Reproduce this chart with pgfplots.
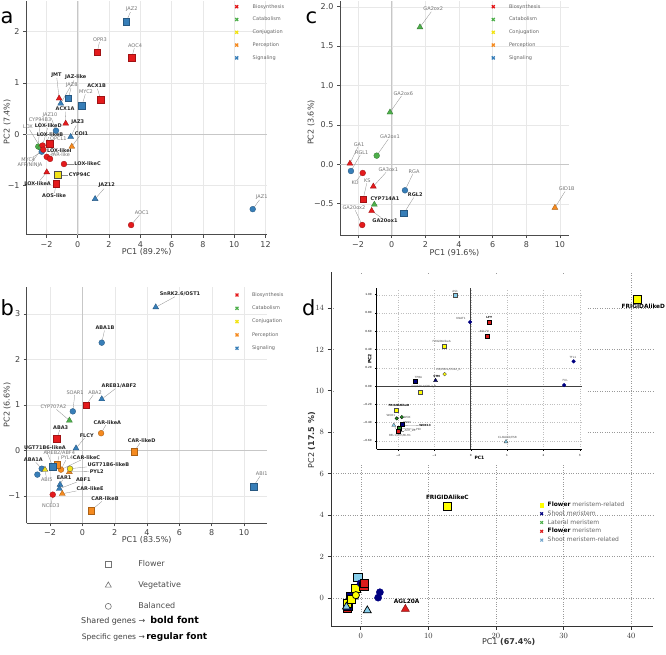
\documentclass[border=0pt]{standalone}
\usepackage{pgfplots}
\pgfplotsset{compat=1.18}
\usepackage{fontspec}
\setmainfont{DejaVu Sans}

% category colours (panels a--c)
\definecolor{cBio}{HTML}{E41A1C}
\definecolor{cCat}{HTML}{4DAF4A}
\definecolor{cCon}{HTML}{F2E318}
\definecolor{cPer}{HTML}{F58A1F}
\definecolor{cSig}{HTML}{377EB8}
% meristem colours (panel d)
\definecolor{dYel}{HTML}{FFFF00}
\definecolor{dNavy}{HTML}{000080}
\definecolor{dGreen}{HTML}{228B22}
\definecolor{dRed}{HTML}{DD1C1C}
\definecolor{dSky}{HTML}{87CEEB}

\tikzset{
  lr/.style={font=\fontsize{5}{5}\selectfont, text=black!55, inner sep=0.5pt},
  lb/.style={font=\fontsize{5}{5}\selectfont\bfseries, text=black!85, inner sep=0.5pt},
  li/.style={font=\fontsize{2.8}{3}\selectfont, text=black!70, inner sep=0.3pt},
  lib/.style={font=\fontsize{2.8}{3}\selectfont\bfseries, text=black, inner sep=0.3pt},
  leader/.style={draw=black!45, line width=0.3pt, shorten <=2pt},
}
% gene label with a leader line: style, point x, point y, label x, label y, text
\newcommand{\gl}[6]{%
  \node[#1] (gl) at (axis cs:#4,#5) {#6};
  \draw[leader] (axis cs:#2,#3) -- (gl);
}

\pgfplotsset{
  pcabase/.style={
    scale only axis,
    axis x line*=bottom, axis y line*=left,
    axis line style={black!70, line width=0.8pt},
    every tick/.style={black!70, line width=0.6pt},
    tick align=outside, major tick length=3pt,
    ticklabel style={font=\fontsize{8}{9}\selectfont, text=black!75},
    label style={font=\fontsize{8}{9}\selectfont, text=black!75},
    grid=major, grid style={black!9, line width=0.35pt},
    clip=false,
    legend style={draw=none, fill=none, inner sep=0pt, outer sep=0pt,
      anchor=north west, column sep=0pt, row sep=7.6pt,
      nodes={inner sep=0pt, font=\fontsize{5}{5}\selectfont, text=black!60,
             text height=3.6pt, text depth=1pt}},
    legend cell align=left,
  },
  sqA/.style={only marks, forget plot, mark=square*, mark size=3.3pt},
  triA/.style={only marks, forget plot, mark=triangle*, mark size=3.4pt},
  cirA/.style={only marks, forget plot, mark=*, mark size=2.9pt},
  bio/.style={draw=cBio!70!black, fill=cBio, mark options={line width=0.35pt}},
  cat/.style={draw=cCat!70!black, fill=cCat, mark options={line width=0.35pt}},
  con/.style={draw=black!70, fill=cCon, mark options={line width=0.35pt}},
  per/.style={draw=cPer!70!black, fill=cPer, mark options={line width=0.35pt}},
  sig/.style={draw=cSig!70!black, fill=cSig, mark options={line width=0.35pt}},
  catlegend/.style={legend image code/.code={%
      \path[draw=none, fill=none] (-3pt,-2.6pt) rectangle (#1,2.6pt);
      \draw[##1] plot coordinates {(0pt,0pt)};}},
  legx/.style={mark=x, mark size=2.1pt, line width=1.3pt, color=#1},
  sqD/.style={only marks, forget plot, mark=square*, mark size=4.1pt},
  triD/.style={only marks, forget plot, mark=triangle*, mark size=4.6pt},
  cirD/.style={only marks, forget plot, mark=*, mark size=3.6pt},
  sqI/.style={only marks, forget plot, mark=square*, mark size=2pt},
  triI/.style={only marks, forget plot, mark=triangle*, mark size=2.3pt},
  cirI/.style={only marks, forget plot, mark=*, mark size=1.8pt},
}

\begin{document}
\begin{tikzpicture}
\useasboundingbox (0pt,0pt) rectangle (666pt,-655pt);

%% ---------------- panel a : jasmonate genes ----------------
\begin{axis}[pcabase, at={(26.1pt,-234.8pt)}, anchor=south west,
  width=241pt, height=233.9pt,
  xmin=-3.3, xmax=12.1, ymin=-1.96, ymax=2.6,
  xtick={-2,0,2,4,6,8,10,12}, xticklabels={−2,0,2,4,6,8,10,12},
  ytick={-1,0,1,2}, yticklabels={−1,0,1,2},
  xlabel={PC1 (89.2\%)}, ylabel={PC2 (7.4\%)},
  xlabel style={at={([yshift=-16.8pt]axis description cs:0.5,0)}, anchor=center},
  ylabel style={at={([xshift=-19pt]axis description cs:0,0.4835)}, anchor=center},
  legend style={at={(0.8614,0.9863)}}, catlegend=16pt,
]
\addlegendimage{legx=cBio}\addlegendentry{Biosynthesis}
\addlegendimage{legx=cCat}\addlegendentry{Catabolism}
\addlegendimage{legx=cCon}\addlegendentry{Conjugation}
\addlegendimage{legx=cPer}\addlegendentry{Perception}
\addlegendimage{legx=cSig}\addlegendentry{Signaling}
\draw[black!22, line width=0.8pt] (axis cs:0,-1.96) -- (axis cs:0,2.6);
\draw[black!22, line width=0.8pt] (axis cs:-3.3,0) -- (axis cs:12.1,0);
\gl{lr}{3.09}{2.19}{3.45}{2.44}{JAZ2}
\gl{lr}{1.25}{1.60}{1.42}{1.85}{OPR3}
\gl{lr}{3.45}{1.49}{3.66}{1.73}{AOC4}
\gl{lb}{-1.19}{0.70}{-1.36}{1.16}{JMT}
\gl{lb}{-1.09}{0.60}{-0.13}{1.11}{JAZ-like}
\gl{lr}{-0.60}{0.70}{-0.38}{0.96}{JAZ8}
\gl{lr}{0.27}{0.56}{0.53}{0.83}{MYC2}
\gl{lb}{1.47}{0.67}{1.21}{0.94}{ACX1B}
\gl{lb}{-0.77}{0.21}{-0.81}{0.49}{ACX1A}
\gl{lr}{-1.39}{0.07}{-1.77}{0.38}{JAZ10}
\gl{lb}{-0.45}{-0.05}{0.0}{0.23}{JAZ3}
\gl{lb}{-0.38}{-0.24}{0.24}{0.02}{COI1}
\gl{lr}{-2.52}{-0.24}{-2.41}{0.28}{CYP94B3}
\gl{lb}{-2.25}{-0.22}{-1.88}{0.17}{LOX-likeD}
\gl{lr}{-2.37}{-0.26}{-3.18}{0.14}{LOX}
\gl{lb}{-2.2}{-0.30}{-1.77}{0.0}{LOX-likeB}
\gl{lr}{-1.81}{-0.18}{-1.24}{-0.08}{OPCL1}
\gl{lb}{-1.98}{-0.44}{-1.18}{-0.31}{LOX-likeI}
\gl{lr}{-1.77}{-0.48}{-1.09}{-0.40}{JAR-like}
\gl{lb}{-0.88}{-0.58}{0.63}{-0.58}{LOX-likeC}
\gl{lr}{-2.30}{-0.34}{-3.16}{-0.50}{MYC4}
\gl{lr}{-2.35}{-0.30}{-3.05}{-0.60}{AFP/NINJA}
\gl{lb}{-1.28}{-0.79}{0.12}{-0.79}{CYP94C}
\gl{lb}{-1.98}{-0.74}{-2.57}{-0.955}{LOX-likeA}
\gl{lb}{-1.39}{-0.96}{-1.51}{-1.20}{AOS-like}
\gl{lb}{1.11}{-1.26}{1.85}{-1.0}{JAZ12}
\gl{lr}{3.41}{-1.77}{4.09}{-1.52}{AOC1}
\gl{lr}{11.18}{-1.46}{11.76}{-1.22}{JAZ1}
\addplot[cirA, cat] coordinates {(-2.52,-0.24) (-2.37,-0.26)};
\addplot[cirA, sig] coordinates {(-1.39,0.07) (-2.30,-0.34) (11.18,-1.46)};
\addplot[cirA, bio] coordinates {(-2.25,-0.22) (-2.2,-0.30) (-1.98,-0.44) (-1.77,-0.48) (-0.88,-0.58) (3.41,-1.77)};
\addplot[triA, per] coordinates {(-0.38,-0.24)};
\addplot[triA, sig] coordinates {(-1.09,0.60) (-0.45,-0.05) (1.11,-1.26)};
\addplot[triA, bio] coordinates {(-1.19,0.70) (-0.77,0.21) (-1.98,-0.74)};
\addplot[sqA, sig] coordinates {(3.09,2.19) (-0.60,0.70) (0.27,0.56)};
\addplot[sqA, bio] coordinates {(1.25,1.60) (3.45,1.49) (1.47,0.67) (-1.81,-0.18) (-1.39,-0.96)};
\addplot[sqA, con] coordinates {(-1.28,-0.79)};
\end{axis}

%% ---------------- panel b : abscisic acid genes ----------------
\begin{axis}[pcabase, at={(26.7pt,-523.3pt)}, anchor=south west,
  width=240pt, height=236.6pt,
  xmin=-3.44, xmax=11.4, ymin=-1.6, ymax=3.6,
  xtick={-2,0,2,4,6,8,10}, xticklabels={−2,0,2,4,6,8,10},
  ytick={-1,0,1,2,3}, yticklabels={−1,0,1,2,3},
  xlabel={PC1 (83.5\%)}, ylabel={PC2 (6.6\%)},
  xlabel style={at={([yshift=-16.4pt]axis description cs:0.5,0)}, anchor=center},
  ylabel style={at={([xshift=-19.5pt]axis description cs:0,0.5)}, anchor=center},
  legend style={at={(0.8638,0.9759)}, row sep=8.1pt}, catlegend=15pt,
]
\addlegendimage{legx=cBio}\addlegendentry{Biosynthesis}
\addlegendimage{legx=cCat}\addlegendentry{Catabolism}
\addlegendimage{legx=cCon}\addlegendentry{Conjugation}
\addlegendimage{legx=cPer}\addlegendentry{Perception}
\addlegendimage{legx=cSig}\addlegendentry{Signaling}
\draw[black!22, line width=0.8pt] (axis cs:0,-1.6) -- (axis cs:0,3.6);
\draw[black!22, line width=0.8pt] (axis cs:-3.44,0) -- (axis cs:11.4,0);
\gl{lb}{4.54}{3.15}{6.04}{3.44}{SnRK2.6/OST1}
\gl{lb}{1.20}{2.37}{1.40}{2.69}{ABA1B}
\gl{lb}{1.20}{1.13}{2.27}{1.42}{AREB1/ABF2}
\gl{lr}{0.23}{1.0}{0.79}{1.28}{ABA2}
\gl{lr}{-0.59}{0.86}{-0.45}{1.28}{SOAR1}
\gl{lr}{-0.80}{0.66}{-1.79}{0.96}{CYP707A2}
\gl{lb}{1.16}{0.38}{1.55}{0.62}{CAR-likeA}
\gl{lb}{-1.58}{0.26}{-1.34}{0.51}{ABA3}
\gl{lb}{-0.39}{0.05}{0.27}{0.33}{FLCY}
\gl{lb}{3.20}{-0.03}{3.67}{0.22}{CAR-likeD}
\gl{lb}{-1.83}{-0.35}{-2.31}{0.07}{UGT71B6-likeA}
\gl{lr}{-1.55}{-0.31}{-1.42}{-0.06}{AREB2/ABF4}
\gl{lr}{-1.32}{-0.42}{-0.95}{-0.16}{PYL4}
\gl{lb}{-1.32}{-0.42}{0.26}{-0.15}{CAR-likeC}
\gl{lb}{-0.76}{-0.40}{1.61}{-0.31}{UGT71B6-likeB}
\gl{lb}{-0.80}{-0.47}{0.89}{-0.46}{PYL2}
\gl{lb}{-2.51}{-0.40}{-3.03}{-0.20}{ABA1A}
\gl{lr}{-2.31}{-0.42}{-2.20}{-0.64}{ABI5}
\gl{lb}{-1.38}{-0.75}{-1.13}{-0.59}{EAR1}
\gl{lb}{-1.42}{-0.84}{0.06}{-0.64}{ABF1}
\gl{lb}{-1.24}{-0.95}{0.48}{-0.83}{CAR-likeE}
\gl{lr}{-1.83}{-0.97}{-1.95}{-1.22}{NCED3}
\gl{lb}{0.54}{-1.32}{1.40}{-1.06}{CAR-likeB}
\gl{lr}{10.58}{-0.79}{11.09}{-0.51}{ABI1}
\addplot[cirA, sig] coordinates {(1.20,2.37) (-0.59,0.86) (-2.51,-0.40) (-2.78,-0.53)};
\addplot[cirA, per] coordinates {(1.16,0.38) (-1.32,-0.42)};
\addplot[cirA, bio] coordinates {(-1.83,-0.97)};
\addplot[triA, sig] coordinates {(4.54,3.15) (1.20,1.13) (-0.39,0.05) (-1.38,-0.75) (-1.42,-0.84)};
\addplot[triA, cat] coordinates {(-0.80,0.66)};
\addplot[triA, con] coordinates {(-2.31,-0.42)};
\addplot[triA, per] coordinates {(-0.80,-0.47) (-1.24,-0.95)};
\addplot[cirA, con] coordinates {(-0.76,-0.40)};
\addplot[sqA, bio] coordinates {(0.23,1.0) (-1.58,0.26)};
\addplot[sqA, per] coordinates {(3.20,-0.03) (-1.55,-0.31) (0.54,-1.32)};
\addplot[sqA, sig] coordinates {(-1.83,-0.35) (10.58,-0.79)};
\end{axis}

%% ---------------- panel c : gibberellin genes ----------------
\begin{axis}[pcabase, at={(340pt,-235pt)}, anchor=south west,
  width=228.9pt, height=233.8pt,
  xmin=-3.07, xmax=10.53, ymin=-0.897, ymax=2.07,
  xtick={-2,0,2,4,6,8,10}, xticklabels={−2,0,2,4,6,8,10},
  ytick={-0.5,0,0.5,1,1.5,2}, yticklabels={−0.5,0.0,0.5,1.0,1.5,2.0},
  xlabel={PC1 (91.6\%)}, ylabel={PC2 (3.6\%)},
  xlabel style={at={([yshift=-17.5pt]axis description cs:0.5,0)}, anchor=center},
  ylabel style={at={([xshift=-29pt]axis description cs:0,0.481)}, anchor=center},
  legend style={at={(0.6566,0.9876)}}, catlegend=15.7pt,
]
\addlegendimage{legx=cBio}\addlegendentry{Biosynthesis}
\addlegendimage{legx=cCat}\addlegendentry{Catabolism}
\addlegendimage{legx=cCon}\addlegendentry{Conjugation}
\addlegendimage{legx=cPer}\addlegendentry{Perception}
\addlegendimage{legx=cSig}\addlegendentry{Signaling}
\draw[black!22, line width=0.8pt] (axis cs:0,-0.897) -- (axis cs:0,2.07);
\draw[black!22, line width=0.8pt] (axis cs:-3.07,0) -- (axis cs:10.53,0);
\gl{lr}{1.68}{1.74}{2.47}{1.97}{GA2ox2}
\gl{lr}{-0.10}{0.66}{0.69}{0.90}{GA2ox6}
\gl{lr}{-0.89}{0.11}{-0.10}{0.35}{GA2ox1}
\gl{lr}{-2.48}{0.01}{-1.94}{0.25}{GA1}
\gl{lr}{-2.42}{-0.085}{-1.78}{0.15}{RGL1}
\gl{lr}{-1.72}{-0.11}{-2.18}{-0.23}{KO}
\gl{lr}{-1.69}{-0.44}{-1.45}{-0.21}{KS}
\gl{lr}{-1.09}{-0.28}{-0.20}{-0.07}{GA3ox1}
\gl{lr}{0.79}{-0.33}{1.33}{-0.09}{RGA}
\gl{lb}{0.73}{-0.62}{1.40}{-0.39}{RGL2}
\node[lb] at (axis cs:-0.40,-0.44) {CYP714A1};
\gl{lb}{-1.19}{-0.59}{-0.40}{-0.71}{GA20ox1}
\gl{lr}{-1.75}{-0.77}{-2.24}{-0.55}{GA20ox2}
\gl{lr}{9.70}{-0.55}{10.4}{-0.31}{GID1B}
\addplot[triA, cat] coordinates {(1.68,1.74) (-0.10,0.66) (-1.03,-0.51)};
\addplot[cirA, cat] coordinates {(-0.89,0.11)};
\addplot[triA, bio] coordinates {(-2.48,0.01) (-1.09,-0.28) (-1.19,-0.59)};
\addplot[cirA, sig] coordinates {(-2.42,-0.085) (0.79,-0.33)};
\addplot[cirA, bio] coordinates {(-1.72,-0.11) (-1.75,-0.77)};
\addplot[sqA, bio] coordinates {(-1.69,-0.44)};
\addplot[sqA, sig] coordinates {(0.73,-0.62)};
\addplot[triA, per] coordinates {(9.70,-0.55)};
\end{axis}

%% ---------------- panel d : meristem genes ----------------
\begin{axis}[scale only axis, at={(331pt,-626pt)}, anchor=south west,
  width=321.8pt, height=354pt,
  xmin=-4.4, xmax=43.2, ymin=-1.36, ymax=15.74,
  axis x line*=bottom, axis y line*=left,
  axis line style={black!80, line width=1pt},
  every tick/.style={black!80, line width=0.7pt},
  tick align=outside, major tick length=3.5pt,
  ticklabel style={font=\fontsize{8}{9}\selectfont, text=black!80},
  label style={font=\fontsize{8}{9}\selectfont, text=black!80},
  xtick={0,10,20,30,40}, ytick={0,2,4,6,8,10,12,14},
  grid=major, grid style={black!40, dotted, line width=0.5pt},
  clip=false,
  xlabel={PC1 \textbf{(67.4\%)}}, ylabel={PC2 \textbf{(17.5 \%)}},
  xlabel style={at={([yshift=-16.2pt]axis description cs:0.552,0)}, anchor=center},
  ylabel style={at={([xshift=-19.5pt]axis description cs:0,0.525)}, anchor=center},
  legend style={draw=none, fill=none, inner sep=0pt, outer sep=0pt,
    at={(0.647,0.35)}, anchor=north west, column sep=0pt, row sep=3.2pt,
    nodes={inner sep=0pt, font=\fontsize{6}{6}\selectfont, text=black!60,
           text height=4.3pt, text depth=1.3pt}},
  legend cell align=left,
  legend image code/.code={\path[draw=none, fill=none] (-2.5pt,-2.5pt) rectangle (6pt,2.5pt);
    \draw[#1] plot coordinates {(0pt,0pt)};},
]
\addlegendimage{mark=square*, mark size=1.9pt, color=dYel}
\addlegendentry{\textcolor{black}{\textbf{Flower}} meristem-related}
\addlegendimage{mark=x, mark size=1.9pt, line width=1.1pt, color=dNavy}
\addlegendentry{Shoot meristem}
\addlegendimage{mark=x, mark size=1.9pt, line width=1.1pt, color=cCat}
\addlegendentry{Lateral meristem}
\addlegendimage{mark=x, mark size=1.9pt, line width=1.1pt, color=dRed}
\addlegendentry{\textcolor{black}{\textbf{Flower}} meristem}
\addlegendimage{mark=x, mark size=1.9pt, line width=1.1pt, color=cSig!70}
\addlegendentry{Shoot meristem-related}
\node[font=\fontsize{5.8}{6}\selectfont\bfseries] at (axis cs:41.8,14.06) {FRIGIDAlikeD};
\node[font=\fontsize{5.8}{6}\selectfont\bfseries] at (axis cs:12.81,4.86) {FRIGIDAlikeC};
\node[font=\fontsize{5.8}{6}\selectfont\bfseries] at (axis cs:6.8,-0.19) {AGL20A};
\addplot[cirD, draw=black, fill=dGreen, mark options={line width=0.7pt}] coordinates {(-2.04,-0.355) (-1.9,-0.34)};
\addplot[sqD, draw=black, fill=dGreen, mark options={line width=0.7pt}] coordinates {(-1.97,-0.46)};
\addplot[sqD, draw=black, fill=dRed, mark options={line width=0.7pt}] coordinates {(-1.99,-0.49)};
\addplot[sqD, draw=black, fill=dNavy, mark options={line width=0.7pt}] coordinates {(-1.9,-0.42) (-1.53,0.05)};
\addplot[triD, draw=black, fill=dNavy, mark options={line width=0.7pt}] coordinates {(-0.97,0.06)};
\addplot[sqD, draw=black, fill=dYel, mark options={line width=0.7pt}] coordinates {(-2.04,-0.26) (-1.38,-0.066) (-0.73,0.44) (40.9,14.43) (12.81,4.43)};
\addplot[cirD, draw=black, fill=dYel, mark options={line width=0.7pt}] coordinates {(-0.72,0.13)};
\addplot[triD, draw=black, fill=dSky, mark options={line width=0.7pt}] coordinates {(-2.12,-0.43) (0.97,-0.61)};
\addplot[sqD, draw=black, fill=dSky, mark options={line width=0.7pt}] coordinates {(-0.43,0.99)};
\addplot[cirD, draw=dNavy, fill=dNavy] coordinates {(-0.02,0.70) (2.57,0.01) (2.83,0.27)};
\addplot[sqD, draw=black, fill=dRed, mark options={line width=0.7pt}] coordinates {(0.45,0.55) (0.5,0.70)};
\addplot[triD, draw=dRed!60!black, fill=dRed, mark options={line width=0.5pt}] coordinates {(6.6,-0.54)};
\end{axis}

% white ground under the inset
\fill[white] (335pt,-463pt) rectangle (586pt,-274pt);

%% ---------------- inset of panel d : cluster near the origin ----------------
\begin{axis}[scale only axis, at={(376.7pt,-449pt)}, anchor=south west,
  width=205.6pt, height=160.7pt,
  xmin=-2.59, xmax=3.07, ymin=-0.69, ymax=1.07,
  axis x line*=bottom, axis y line*=left,
  axis line style={black, line width=0.9pt},
  every tick/.style={black, line width=0.4pt},
  tick align=outside, major tick length=1.5pt,
  ticklabel style={font=\fontsize{2.8}{3}\selectfont},
  xtick={-2,-1,0,1,2,3}, xticklabels={−2,−1,0,1,2,3},
  ytick={-0.6,-0.4,-0.2,0,0.2,0.4,0.6,0.8,1.0},
  yticklabels={−0.60,−0.40,−0.20,0.00,0.20,0.40,0.60,0.80,1.00},
  grid=major, grid style={black!25, dotted, line width=0.3pt},
  xlabel={\textbf{PC1}}, ylabel={\textbf{PC2}},
  label style={font=\fontsize{4.5}{5}\selectfont},
  xlabel style={at={([yshift=-9pt]axis description cs:0.5,0)}, anchor=center},
  ylabel style={at={([xshift=-7pt]axis description cs:0,0.56)}, anchor=center},
  clip=false,
]
\draw[black!75, line width=0.9pt] (axis cs:0,-0.69) -- (axis cs:0,1.07);
\draw[black!75, line width=0.9pt] (axis cs:-2.59,0) -- (axis cs:3.07,0);
\node[li] at (axis cs:-0.43,1.04) {AS1};
\node[li] at (axis cs:-0.27,0.74) {KNAT1};
\node[lib] at (axis cs:0.51,0.755) {LFY};
\node[li] at (axis cs:0.37,0.60) {AGL79};
\node[li] at (axis cs:-0.80,0.49) {FRIGIDAlikeA};
\node[li] at (axis cs:2.81,0.315) {TFL1};
\node[li] at (axis cs:2.60,0.055) {FUL};
\node[li] at (axis cs:-0.62,0.18) {CO/COL1/COL2\_A};
\node[lib] at (axis cs:-0.94,0.107) {STM};
\node[li] at (axis cs:-1.44,0.096) {TPBA};
\node[li] at (axis cs:-1.29,-0.01) {CO/COL1/COL2\_B};
\node[lib] at (axis cs:-1.98,-0.216) {FRIGIDAlikeB};
\node[li] at (axis cs:-2.20,-0.32) {WOX1};
\node[li] at (axis cs:-1.75,-0.34) {WOX};
\node[li] at (axis cs:-1.75,-0.40) {KNOX};
\gl{lib}{-1.9}{-0.43}{-1.26}{-0.436}{WOX13}
\gl{li}{-1.97}{-0.46}{-1.44}{-0.476}{PID}
\gl{li}{-1.99}{-0.49}{-1.67}{-0.49}{ANT\_2B}
\gl{li}{-2.12}{-0.43}{-1.95}{-0.546}{BEL1/ATH/BLH1}
\node[li] at (axis cs:1.01,-0.568) {CLAVATA/ESR};
\addplot[cirI, draw=black, fill=dGreen, mark options={line width=0.3pt}] coordinates {(-2.04,-0.355) (-1.9,-0.34)};
\addplot[sqI, draw=black, fill=dGreen, mark options={line width=0.3pt}] coordinates {(-1.97,-0.46)};
\addplot[sqI, draw=black, fill=dRed, mark options={line width=0.3pt}] coordinates {(-1.99,-0.49)};
\addplot[sqI, draw=black, fill=dNavy, mark options={line width=0.3pt}] coordinates {(-1.9,-0.42) (-1.53,0.05)};
\addplot[triI, draw=black, fill=dNavy, mark options={line width=0.3pt}] coordinates {(-0.97,0.06)};
\addplot[sqI, draw=black!70, fill=dYel, mark options={line width=0.4pt}] coordinates {(-2.04,-0.26) (-1.38,-0.066) (-0.73,0.44)};
\addplot[cirI, draw=black!70, fill=dYel, mark options={line width=0.4pt}] coordinates {(-0.72,0.13)};
\addplot[triI, draw=black!70, fill=dSky, mark options={line width=0.3pt}] coordinates {(-2.12,-0.43) (0.97,-0.61)};
\addplot[sqI, draw=black!70, fill=dSky, mark options={line width=0.4pt}] coordinates {(-0.43,0.99)};
\addplot[cirI, draw=dNavy, fill=dNavy] coordinates {(-0.02,0.70) (2.57,0.01) (2.83,0.27)};
\addplot[sqI, draw=black, fill=dRed, mark options={line width=0.3pt}] coordinates {(0.45,0.55) (0.5,0.70)};
\end{axis}

%% ---------------- shape key ----------------
\begin{axis}[hide axis, scale only axis, width=1pt, height=1pt,
  xmin=0, xmax=1, ymin=0, ymax=1,
  at={(104.3pt,-560.5pt)}, anchor=north west,
  legend style={draw=none, fill=none, inner sep=0pt, outer sep=0pt,
    at={(0,1)}, anchor=north west, column sep=0pt, row sep=13.3pt,
    nodes={inner sep=0pt, font=\fontsize{8}{8}\selectfont, text=black!70,
           text height=5.9pt, text depth=1.8pt}},
  legend cell align=left,
  legend image code/.code={\path[draw=none, fill=none] (-4pt,-3.5pt) rectangle (30pt,3.5pt);
    \draw[#1] plot coordinates {(0pt,0pt)};},
]
\addlegendimage{mark=square, mark size=2.9pt, line width=0.6pt, color=black!55}
\addlegendentry{Flower}
\addlegendimage{mark=triangle, mark size=3.4pt, line width=0.6pt, color=black!55}
\addlegendentry{Vegetative}
\addlegendimage{mark=o, mark size=3pt, line width=0.6pt, color=black!55}
\addlegendentry{Balanced}
\end{axis}

\node[anchor=west, inner sep=0pt, font=\fontsize{8}{8}\selectfont] at (81pt,-620.7pt)
  {\textcolor{black!75}{Shared genes →}\hspace{5pt}{\fontsize{9.5}{9.5}\selectfont\bfseries bold font}};
\node[anchor=west, inner sep=0pt, font=\fontsize{7.5}{8}\selectfont] at (81.7pt,-636.7pt)
  {\textcolor{black!75}{Specific genes →}\hspace{1.5pt}{\fontsize{9}{9}\selectfont\bfseries regular font}};

% panel letters
\node[anchor=base west, inner sep=0pt, font=\fontsize{21}{21}\selectfont] at (0.5pt,-23.3pt) {a};
\node[anchor=base west, inner sep=0pt, font=\fontsize{21}{21}\selectfont] at (305.5pt,-23.3pt) {c};
\node[anchor=base west, inner sep=0pt, font=\fontsize{21}{21}\selectfont] at (0.5pt,-315pt) {b};
\node[anchor=base west, inner sep=0pt, font=\fontsize{21}{21}\selectfont] at (302pt,-315pt) {d};
\end{tikzpicture}
\end{document}
